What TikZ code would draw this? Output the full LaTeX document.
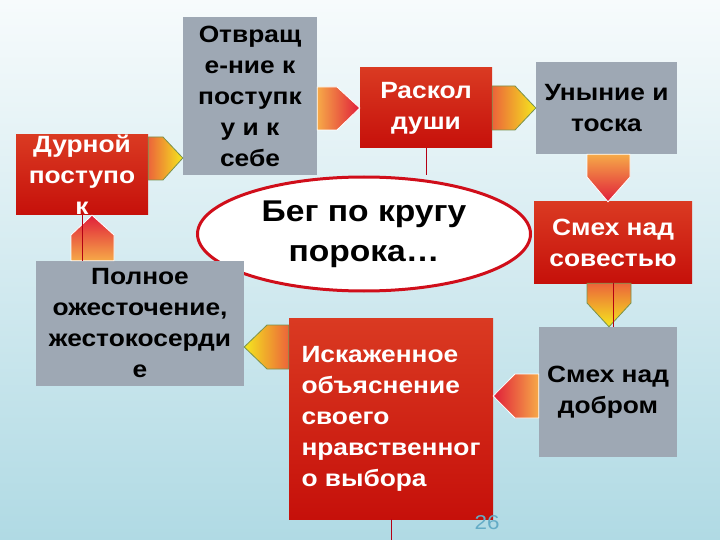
\documentclass[tikz,border=0pt]{standalone}
\usepackage{fontspec}
\setmainfont{Liberation Sans}[FakeStretch=1.12]
\usepackage{tikz}
\usetikzlibrary{shapes.geometric}
\definecolor{redtop}{RGB}{218,58,34}
\definecolor{redbot}{RGB}{198,16,10}
\definecolor{boxgray}{RGB}{158,168,180}
\definecolor{ellred}{RGB}{208,14,26}
\definecolor{lnred}{RGB}{180,0,20}
\definecolor{aorange}{RGB}{246,170,72}
\definecolor{ared}{RGB}{224,30,58}
\definecolor{ored}{RGB}{236,100,58}
\definecolor{ayel}{RGB}{244,232,30}
\definecolor{agreen}{RGB}{120,146,78}
\definecolor{bgtop}{RGB}{247,251,252}
\definecolor{bgbot}{RGB}{176,218,228}
\definecolor{numblue}{RGB}{100,172,198}

\begin{document}
\begin{tikzpicture}[
    x=1pt,y=-1pt,
    boxtext/.style={inner sep=0pt,align=center,font=\bfseries\fontsize{23.5}{31}\selectfont},
    redbox/.style={boxtext,top color=redtop,bottom color=redbot,text=white},
    graybox/.style={boxtext,fill=boxgray,text=black},
    arrg/.style={draw=agreen,line width=.8pt},
    arrw/.style={draw=white,line width=.8pt},
    redline/.style={draw=lnred,line width=.8pt}
    ]
    \shade[top color=bgtop,bottom color=bgbot] (0,0) rectangle (720,540);
    \useasboundingbox (0,0) rectangle (720,540);

    \node[ellipse,draw=ellred,line width=3pt,fill=white,inner sep=0pt,
      minimum width=333,minimum height=114,align=center,
      font=\bfseries\fontsize{30}{40}\selectfont] (ell) at (364,234) {Бег по кругу\\порока…};

    \node[redbox,minimum width=132,minimum height=80] (durn) at (82,175) {Дурной\\поступо\\к};
    \node[graybox,minimum width=134,minimum height=158] (otv) at (250,96) {Отвращ\\е-ние к\\поступк\\у и к\\себе};
    \node[redbox,minimum width=132,minimum height=80] (rask) at (426,108) {Раскол\\души};
    \node[graybox,minimum width=141,minimum height=92] (uny) at (606.5,108) {Уныние и\\тоска};
    \node[redbox,minimum width=158,minimum height=81] (sov) at (613,242.5) {Смех над\\совестью};
    \node[graybox,minimum width=138,minimum height=130] (dob) at (608,392) {Смех над\\добром};
    \node[redbox,align=left,minimum width=204,minimum height=201] (isk) at (391,418.5) {Искаженное\\объяснение\\своего\\нравственног\\о выбора};
    \node[graybox,minimum width=208,minimum height=125] (poln) at (140,323.5) {Полное\\ожесточение,\\жестокосерди\\е};

    \shadedraw[arrg,left color=ored,right color=ayel] (durn.east |- 0,137) -- (163,137) -- (otv.west |- 0,158) -- (163,180) -- (durn.east |- 0,180) -- cycle;
    \shadedraw[arrw,left color=aorange,right color=ared] (otv.east |- 0,87) -- (337,87) -- (rask.west |- 0,108) -- (337,130) -- (otv.east |- 0,130) -- cycle;
    \shadedraw[arrg,left color=ored,right color=ayel] (rask.east |- 0,86) -- (515,86) -- (uny.west |- 0,108) -- (515,130) -- (rask.east |- 0,130) -- cycle;
    \shadedraw[arrw,top color=aorange,bottom color=ared] (587,0 |- uny.south) -- (587,177) -- (608,0 |- sov.north) -- (630,177) -- (630,0 |- uny.south) -- cycle;
    \shadedraw[arrg,top color=ored,bottom color=ayel] (587,0 |- sov.south) -- (587,303) -- (609,0 |- dob.north) -- (631,303) -- (631,0 |- sov.south) -- cycle;
    \shadedraw[arrw,left color=ared,right color=aorange] (dob.west |- 0,374) -- (515,374) -- (isk.east |- 0,396) -- (515,418) -- (dob.west |- 0,418) -- cycle;
    \shadedraw[arrg,left color=ayel,right color=ored] (isk.west |- 0,325) -- (267,325) -- (poln.east |- 0,347) -- (267,369) -- (isk.west |- 0,369) -- cycle;
    \shadedraw[arrw,top color=ared,bottom color=aorange] (71,0 |- poln.north) -- (71,235) -- (92,0 |- durn.south) -- (114,235) -- (114,0 |- poln.north) -- cycle;

    \coordinate (iskend) at (391,540);
    \draw[redline] (rask.south) -- (rask.south |- ell.north);
    \draw[redline] (durn.south) -- (durn.south |- poln.north);
    \draw[redline] (sov.south) -- (sov.south |- dob.north);
    \draw[redline] (isk.south) -- (iskend);

    \node[text=numblue,font=\fontsize{20}{22}\selectfont] (pnum) at (487,523) {26};
\end{tikzpicture}
\end{document}
